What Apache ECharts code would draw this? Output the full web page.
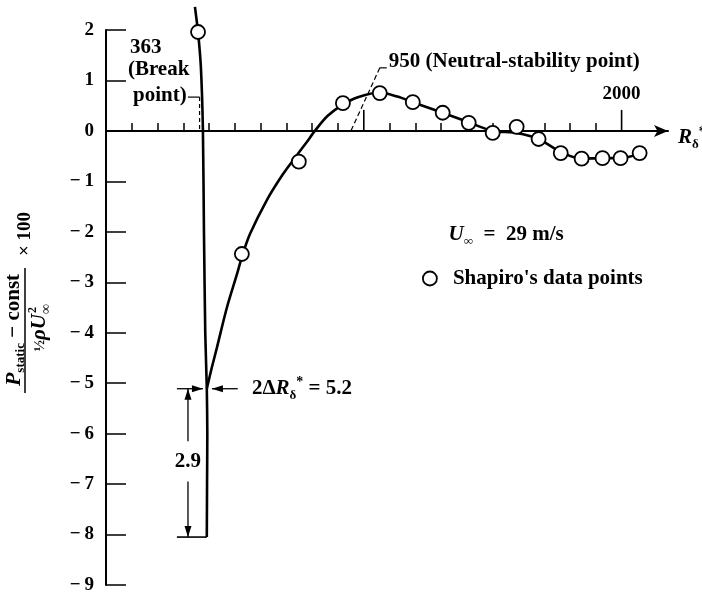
<!DOCTYPE html>
<html>
<head>
<meta charset="utf-8">
<script src="https://cdn.jsdelivr.net/npm/echarts@6/dist/echarts.min.js"></script>
<style>
html,body{margin:0;padding:0;background:#fff;}
#c{width:702px;height:595px;}
</style>
</head>
<body>
<div id="c"></div>
<script>
const FONT = '"Liberation Serif", "Times New Roman", serif';

// ---------------- data ----------------
// Shapiro's data points (R_delta*, pressure coefficient x100)
const shapiroR = [357, 527, 748, 919, 1062, 1190, 1306, 1407, 1500, 1593, 1678, 1764, 1845, 1926, 1996, 2070];
const shapiroP = [1.96, -2.44, -0.61, 0.55, 0.75, 0.57, 0.36, 0.16, -0.04, 0.08, -0.16, -0.44, -0.55, -0.54, -0.54, -0.44];
// near-vertical branch through the break point
const breakR = [345, 357, 368, 376, 380, 385, 391, 393, 392, 391];
const breakP = [2.46, 1.96, 1.27, 0.0, -2.0, -4.0, -5.1, -6.0, -7.0, -8.05];
// fitted curve
const fitR = [391, 410, 430, 469, 508, 527, 558, 624, 686, 729, 779, 810, 860, 919, 980, 1062, 1130, 1190, 1306, 1407, 1500, 1593, 1678, 1764, 1845, 1926, 1996, 2070];
const fitP = [-5.11, -4.7, -4.3, -3.5, -2.84, -2.5, -2.05, -1.37, -0.86, -0.56, -0.22, 0.0, 0.3, 0.52, 0.67, 0.76, 0.68, 0.57, 0.36, 0.17, 0.0, -0.04, -0.16, -0.42, -0.55, -0.54, -0.54, -0.45];
// axes
const xMinorTicks = [100, 200, 300, 400, 500, 600, 700, 800, 900, 1100, 1200, 1300, 1400, 1500, 1600, 1700, 1800, 1900];
const xLongTicks = [1000, 2000];
const xLongTickLabels = ['', '2000'];
const xLabelsBelow = [1000];
const xMin = 0, xMax = 2180;
const yMin = -9, yMax = 2, yStep = 1;

const zip = (a, b) => a.map((v, i) => [v, b[i]]);

const chart = echarts.init(document.getElementById('c'), null, {renderer: 'canvas'});

const option = {
  animation: false,
  backgroundColor: '#fff',
  grid: {left: 106, right: 34, top: 30, bottom: 10, outerBoundsMode: 'none'},
  legend: {
    data: ["Shapiro's data points"],
    left: 422, top: 268, padding: 0,
    itemWidth: 36, itemHeight: 14,
    itemStyle: {color: '#fff', borderColor: '#000', borderWidth: 1.8},
    textStyle: {color: '#000', fontFamily: FONT, fontSize: 21, fontWeight: 'bold'}
  },
  xAxis: {
    type: 'value', min: xMin, max: xMax,
    axisLine: {onZero: true, symbol: ['none', 'arrow'], symbolSize: [9, 14], lineStyle: {color: '#000', width: 2}},
    axisTick: {inside: true, length: 8, customValues: xMinorTicks, lineStyle: {color: '#000', width: 1.5}},
    axisLabel: {customValues: xLabelsBelow, margin: 11, color: '#000', fontFamily: FONT, fontSize: 19, fontWeight: 'bold'},
    splitLine: {show: false}
  },
  yAxis: {
    type: 'value', min: yMin, max: yMax, interval: yStep,
    axisLine: {show: true, onZero: false, lineStyle: {color: '#000', width: 2}},
    axisTick: {inside: true, length: 20, lineStyle: {color: '#000', width: 1.5}},
    axisLabel: {
      margin: 12, color: '#000', fontFamily: FONT, fontSize: 19, fontWeight: 'bold',
      formatter: v => v < 0 ? '\u2212\u2009' + (-v) : String(v)
    },
    splitLine: {show: false}
  },
  series: [
    {
      name: 'break', type: 'line', data: zip(breakR, breakP), showSymbol: false, smooth: 0.2,
      clip: false, silent: true, lineStyle: {color: '#000', width: 2.6}, z: 2
    },
    {
      name: 'fit', type: 'line', data: zip(fitR, fitP), showSymbol: false, smooth: 0.3,
      clip: false, silent: true, lineStyle: {color: '#000', width: 2.6}, z: 2
    },
    {
      name: "Shapiro's data points", type: 'scatter', data: zip(shapiroR, shapiroP),
      symbol: 'circle', symbolSize: 14, clip: false,
      itemStyle: {color: '#fff', borderColor: '#000', borderWidth: 1.8, opacity: 1}, z: 5
    },
    {
      name: 'longTicks', type: 'custom', data: xLongTicks.map(v => [v, 0]), z: 4, silent: true,
      renderItem: function (params, api) {
        const p = api.coord([api.value(0), api.value(1)]);
        const lab = xLongTickLabels[params.dataIndex];
        const children = [{
          type: 'line', shape: {x1: p[0], y1: p[1], x2: p[0], y2: p[1] - 21},
          style: {stroke: '#000', lineWidth: 1.6}
        }];
        if (lab) {
          children.push({
            type: 'text', x: p[0], y: p[1] - 27,
            style: {text: lab, fill: '#000', fontFamily: FONT, fontSize: 19, fontWeight: 'bold',
                    align: 'center', verticalAlign: 'bottom', textAlign: 'center', textVerticalAlign: 'bottom'}
          });
        }
        return {type: 'group', children: children};
      }
    }
  ]
};
chart.setOption(option);

// ---------------- annotations ----------------
const P = (x, y) => chart.convertToPixel({gridIndex: 0}, [x, y]);
const line = (a, b, w, dash) => ({
  type: 'line', silent: true,
  shape: {x1: a[0], y1: a[1], x2: b[0], y2: b[1]},
  style: {stroke: '#000', lineWidth: w || 1.3, lineDash: dash || null}
});
const head = (tip, from, L, W) => {
  L = L || 11; W = W || 3.5;
  const dx = tip[0] - from[0], dy = tip[1] - from[1];
  const len = Math.hypot(dx, dy), ux = dx / len, uy = dy / len;
  const bx = tip[0] - ux * L, by = tip[1] - uy * L;
  return {type: 'polygon', silent: true,
          shape: {points: [[tip[0], tip[1]], [bx - uy * W, by + ux * W], [bx + uy * W, by - ux * W]]},
          style: {fill: '#000'}};
};
const base = {fontFamily: FONT, fontSize: 21, fontWeight: 'bold', fill: '#000'};
const txt = (pos, text, align, rich) => ({
  type: 'text', x: pos[0], y: pos[1], silent: true,
  style: Object.assign({}, base, {text: text, align: align || 'left', textAlign: align || 'left',
           verticalAlign: 'middle', textVerticalAlign: 'middle', rich: rich || undefined})
});

const richMain = {fontFamily: FONT, fontSize: 21, fontWeight: 'bold', lineHeight: 26, fill: '#000', color: '#000'};
const richIt = Object.assign({}, richMain, {fontStyle: 'italic'});
const richSub = {fontFamily: FONT, fontSize: 13, fontWeight: 'bold', lineHeight: 14, verticalAlign: 'bottom', fill: '#000', color: '#000'};
const richSup = {fontFamily: FONT, fontSize: 14, fontWeight: 'bold', lineHeight: 14, verticalAlign: 'top', fill: '#000', color: '#000'};

const g = [];
// break point annotation
g.push(txt(P(93, 1.65), '363'));
g.push(txt(P(85, 1.21), '(Break'));
g.push(txt(P(105, 0.71), 'point)'));
g.push(line(P(318, 0.67), P(363, 0.67), 1.2));
g.push(line(P(363, 0.67), P(363, 0), 1.2, [4, 3]));
// neutral stability annotation
g.push(txt(P(1097, 1.37), '950 (Neutral-stability point)'));
g.push(line(P(1062, 1.25), P(1089, 1.25), 1.2));
g.push(line(P(1062, 1.25), P(950, 0), 1.2, [5, 3]));
// x axis name
const rx = P(xMax, 0);
g.push(txt([rx[0] + 10, rx[1] + 7], '{r|R}{d|δ}{s|*}', 'left', {r: richIt, d: richSub, s: richSup}));
// free-stream velocity
g.push(txt(P(1329, -2.06), '{u|U}{d|∞}{m|\u2002=\u200229 m/s}', 'left', {u: richIt, d: richSub, m: richMain}));
// 2ΔR annotation
g.push(txt(P(566, -5.11), '{m|2Δ}{r|R}{d|δ}{s|*}{m| = 5.2}', 'left', {m: richMain, r: richIt, d: richSub, s: richSup}));
const a1 = P(275, -5.11), a1t = P(376, -5.11);
g.push(line(a1, a1t, 1.3));
g.push(head(a1t, a1));
const a2 = P(511, -5.11), a2t = P(411, -5.11);
g.push(line(a2, a2t, 1.3));
g.push(head(a2t, a2));
// 2.9 dimension
const v1 = P(318, -5.11), v1b = P(318, -6.15), v2a = P(318, -6.95), v2 = P(318, -8.05);
g.push(line(v1, v1b, 1.3));
g.push(head(v1, v1b));
g.push(line(v2a, v2, 1.3));
g.push(head(v2, v2a));
g.push(txt(P(318, -6.56), '2.9', 'center', null));
g.push(line(P(275, -8.05), P(391, -8.05), 1.6));

// y axis title (rotated fraction)
const yTitle = {
  type: 'group', x: 24, y: 330, rotation: Math.PI / 2, silent: true,
  children: [
    {type: 'text', x: 0, y: -10, style: {
      text: '{p|P}{s|static}{m| \u2212 const}', align: 'center', verticalAlign: 'middle',
      textAlign: 'center', textVerticalAlign: 'middle',
      rich: {p: Object.assign({}, richIt, {fontSize: 22}), s: richSub, m: richMain}}},
    {type: 'line', shape: {x1: -63, y1: 1, x2: 62, y2: 1}, style: {stroke: '#000', lineWidth: 1.5}},
    {type: 'text', x: 16, y: 16, style: {
      text: '{h|½}{r|ρU}', align: 'right', verticalAlign: 'middle', textAlign: 'right', textVerticalAlign: 'middle',
      rich: {h: {fontFamily: FONT, fontSize: 15, fontWeight: 'bold', lineHeight: 22, fill: '#000'},
             r: Object.assign({}, richIt, {lineHeight: 22})}}},
    {type: 'text', x: 17, y: 9, style: {text: '2', fontFamily: FONT, fontSize: 12, fontWeight: 'bold', fill: '#000',
      align: 'left', verticalAlign: 'middle', textAlign: 'left', textVerticalAlign: 'middle'}},
    {type: 'text', x: 16, y: 22, style: {text: '∞', fontFamily: FONT, fontSize: 14, fontWeight: 'bold', fill: '#000',
      align: 'left', verticalAlign: 'middle', textAlign: 'left', textVerticalAlign: 'middle'}},
    {type: 'text', x: 96, y: 1, style: {text: '× 100', fontFamily: FONT, fontSize: 19, fontWeight: 'bold', fill: '#000',
      align: 'center', verticalAlign: 'middle', textAlign: 'center', textVerticalAlign: 'middle'}}
  ]
};
g.push(yTitle);

chart.setOption({graphic: {elements: g}});
</script>
</body>
</html>
